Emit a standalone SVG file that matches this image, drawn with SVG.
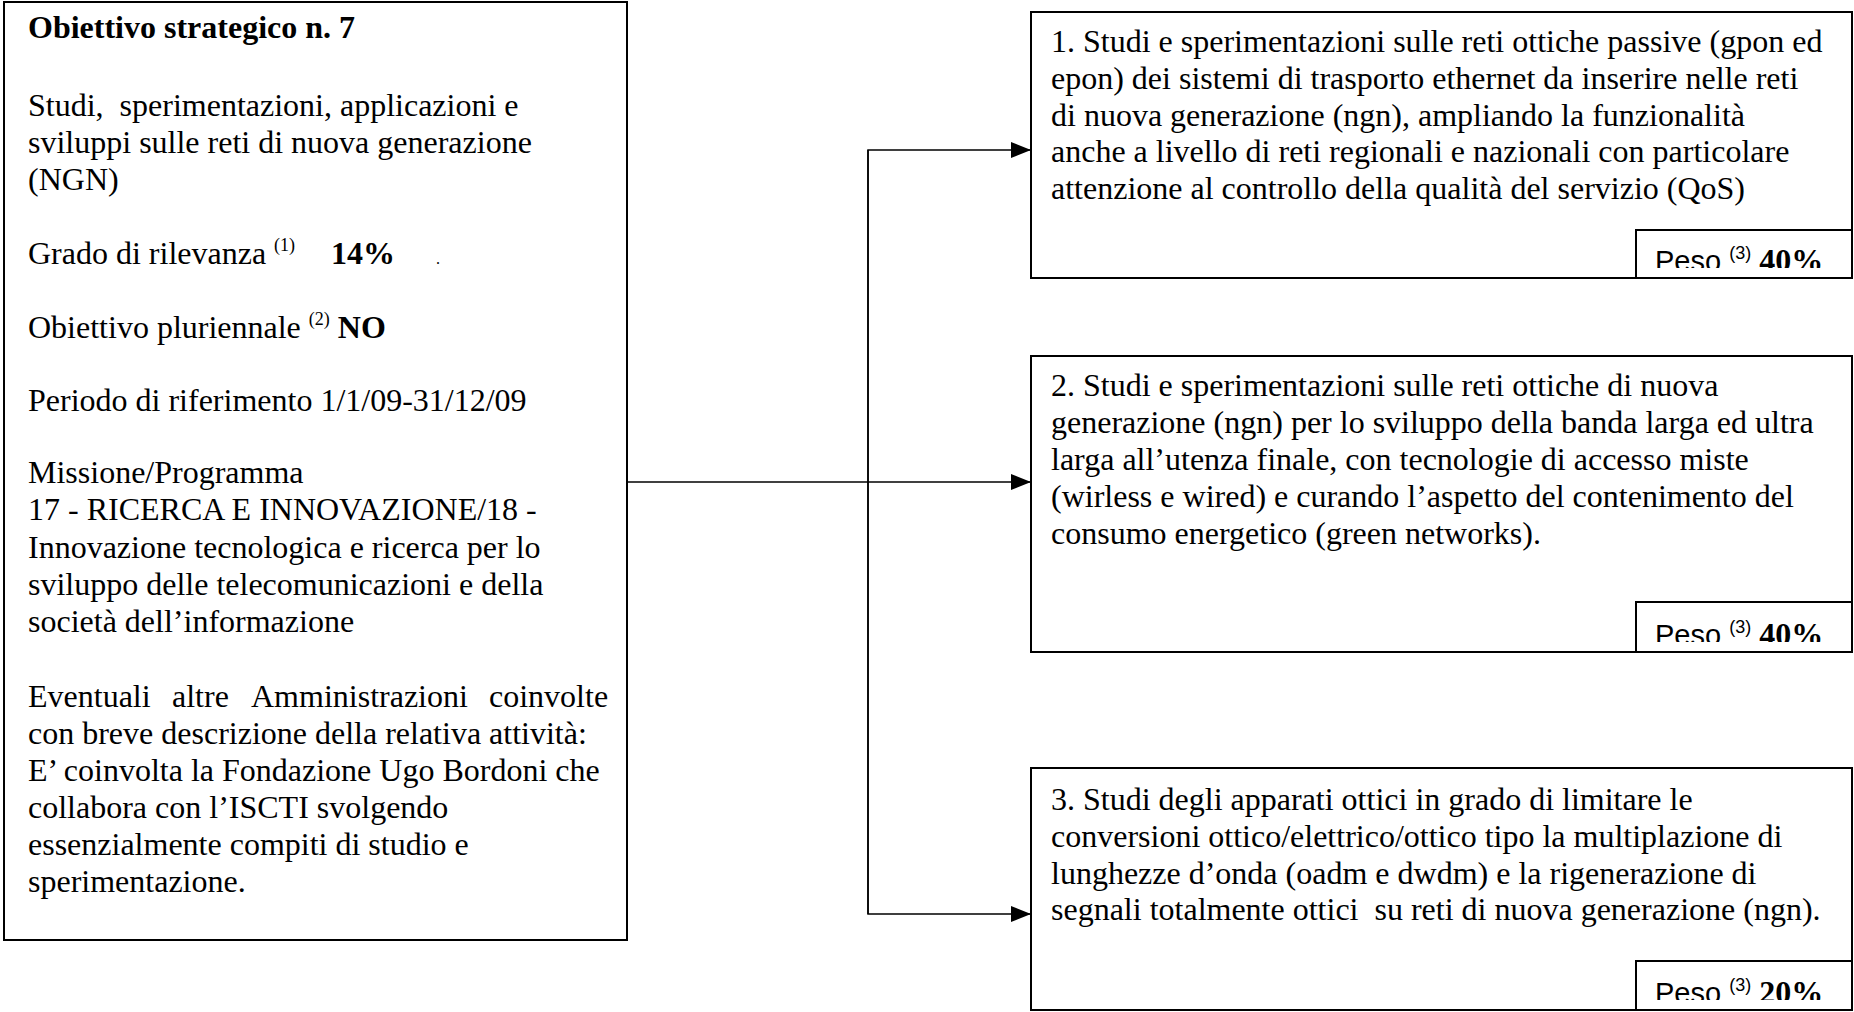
<svg xmlns="http://www.w3.org/2000/svg" width="1854" height="1012" viewBox="0 0 1854 1012">
<style>
text{font-family:"Liberation Serif","Times New Roman",serif;font-size:32px;fill:#000;white-space:pre}
.b{font-weight:bold}
.sans{font-family:"Liberation Sans",Arial,sans-serif}
.box{fill:#fff;stroke:#000;stroke-width:2}
.conn{fill:none;stroke:#000;stroke-width:1.5}
</style>
<defs>
<marker id="ah" markerWidth="20" markerHeight="16" refX="20" refY="8" orient="auto" markerUnits="userSpaceOnUse">
<path d="M0,0 L20,8 L0,16 Z" fill="#000"/>
</marker>
<clipPath id="c1"><rect x="1632" y="230" width="220" height="38"/></clipPath>
<clipPath id="c2"><rect x="1632" y="602" width="220" height="40"/></clipPath>
<clipPath id="c3"><rect x="1632" y="961" width="220" height="39"/></clipPath>
</defs>
<rect width="1854" height="1012" fill="#fff"/>

<g id="connectors">
<path class="conn" d="M627,482 H1031" marker-end="url(#ah)"/>
<path class="conn" d="M868,914 V150 H1031" marker-end="url(#ah)"/>
<path class="conn" d="M868,150 V914 H1031" marker-end="url(#ah)"/>
</g>

<g id="obiettivo">
<rect class="box" x="4" y="2" width="623" height="938"/>
<text x="28" y="38" class="b">Obiettivo strategico n. 7</text>
<text x="28" y="116">Studi,  sperimentazioni, applicazioni e</text>
<text x="28" y="153">sviluppi sulle reti di nuova generazione</text>
<text x="28" y="190">(NGN)</text>
<text x="28" y="264">Grado di rilevanza <tspan font-size="18" dy="-13">(1)</tspan><tspan x="331" dy="13" class="b">14%</tspan><tspan x="436" font-size="16">.</tspan></text>
<text x="28" y="338">Obiettivo pluriennale <tspan font-size="18" dy="-13">(2)</tspan><tspan dy="13" class="b"> NO</tspan></text>
<text x="28" y="411">Periodo di riferimento 1/1/09-31/12/09</text>
<text x="28" y="483">Missione/Programma</text>
<text x="28" y="520">17 - RICERCA E INNOVAZIONE/18 -</text>
<text x="28" y="558">Innovazione tecnologica e ricerca per lo</text>
<text x="28" y="595">sviluppo delle telecomunicazioni e della</text>
<text x="28" y="632">società dell’informazione</text>
<text y="707"><tspan x="28">Eventuali</tspan><tspan x="172">altre</tspan><tspan x="251">Amministrazioni</tspan><tspan x="489">coinvolte</tspan></text>
<text x="28" y="744">con breve descrizione della relativa attività:</text>
<text x="28" y="781">E’ coinvolta la Fondazione Ugo Bordoni che</text>
<text x="28" y="818">collabora con l’ISCTI svolgendo</text>
<text x="28" y="855">essenzialmente compiti di studio e</text>
<text x="28" y="892">sperimentazione.</text>
</g>

<g id="azione1">
<rect class="box" x="1031" y="12" width="821" height="266"/>
<text x="1051" y="52">1. Studi e sperimentazioni sulle reti ottiche passive (gpon ed</text>
<text x="1051" y="89">epon) dei sistemi di trasporto ethernet da inserire nelle reti</text>
<text x="1051" y="126">di nuova generazione (ngn), ampliando la funzionalità</text>
<text x="1051" y="162">anche a livello di reti regionali e nazionali con particolare</text>
<text x="1051" y="199">attenzione al controllo della qualità del servizio (QoS)</text>
<rect class="box" x="1636" y="230" width="216" height="48"/>
<text x="1655" y="271" clip-path="url(#c1)"><tspan class="sans" font-size="29">Peso </tspan><tspan class="sans" font-size="18" dy="-12">(3)</tspan><tspan class="b" dy="12"> 40%</tspan></text>
</g>

<g id="azione2">
<rect class="box" x="1031" y="356" width="821" height="296"/>
<text x="1051" y="396">2. Studi e sperimentazioni sulle reti ottiche di nuova</text>
<text x="1051" y="433">generazione (ngn) per lo sviluppo della banda larga ed ultra</text>
<text x="1051" y="470">larga all’utenza finale, con tecnologie di accesso miste</text>
<text x="1051" y="507">(wirless e wired) e curando l’aspetto del contenimento del</text>
<text x="1051" y="544">consumo energetico (green networks).</text>
<rect class="box" x="1636" y="602" width="216" height="50"/>
<text x="1655" y="645" clip-path="url(#c2)"><tspan class="sans" font-size="29">Peso </tspan><tspan class="sans" font-size="18" dy="-12">(3)</tspan><tspan class="b" dy="12"> 40%</tspan></text>
</g>

<g id="azione3">
<rect class="box" x="1031" y="768" width="821" height="242"/>
<text x="1051" y="810">3. Studi degli apparati ottici in grado di limitare le</text>
<text x="1051" y="847">conversioni ottico/elettrico/ottico tipo la multiplazione di</text>
<text x="1051" y="884">lunghezze d’onda (oadm e dwdm) e la rigenerazione di</text>
<text x="1051" y="920">segnali totalmente ottici  su reti di nuova generazione (ngn).</text>
<rect class="box" x="1636" y="961" width="216" height="49"/>
<text x="1655" y="1003" clip-path="url(#c3)"><tspan class="sans" font-size="29">Peso </tspan><tspan class="sans" font-size="18" dy="-12">(3)</tspan><tspan class="b" dy="12"> 20%</tspan></text>
</g>
</svg>
